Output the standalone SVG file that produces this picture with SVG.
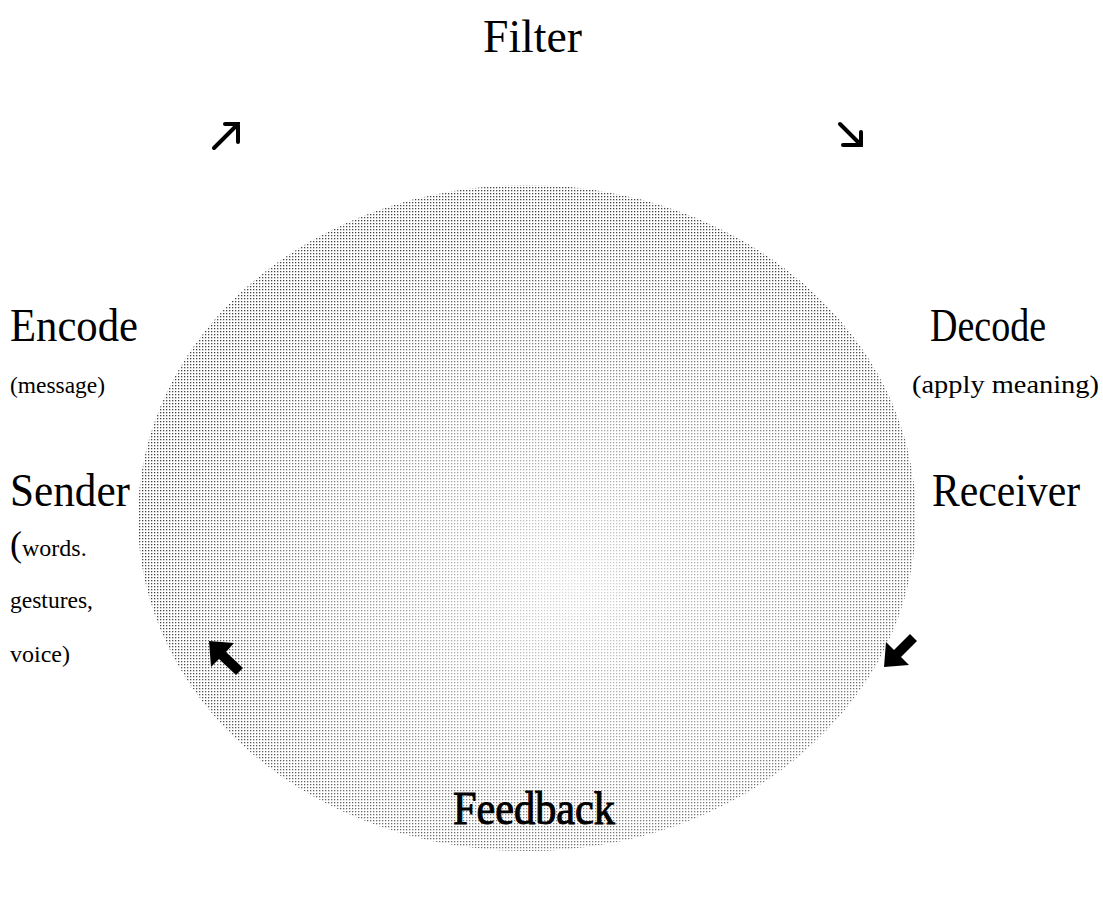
<svg xmlns="http://www.w3.org/2000/svg" width="1103" height="901" viewBox="0 0 1103 901">
  <defs>
    <pattern id="dots" width="3" height="3" patternUnits="userSpaceOnUse">
      <rect x="1" y="1" width="1.3" height="1.3" fill="#444"/>
    </pattern>
    <radialGradient id="fade" cx="0.56" cy="0.6" r="0.55">
      <stop offset="0" stop-color="#fff" stop-opacity="0.8"/>
      <stop offset="0.55" stop-color="#fff" stop-opacity="0.4"/>
      <stop offset="1" stop-color="#fff" stop-opacity="0"/>
    </radialGradient>
  </defs>
  <style>
    text { font-family: "Liberation Serif", "Times New Roman", serif; fill: #000; }
    .big { font-size: 46px; }
    .small { font-size: 24px; }
    .thin { fill: none; stroke: #000; stroke-width: 4; stroke-linecap: round; stroke-linejoin: miter; }
    .bold { fill: #000; stroke: none; }
  </style>
  <rect width="1103" height="901" fill="#fff"/>
  <g id="circle">
    <ellipse cx="527" cy="518" rx="389" ry="333" fill="url(#dots)"/>
    <ellipse cx="527" cy="518" rx="389" ry="333" fill="url(#fade)"/>
  </g>
  <g id="filter"><text class="big" x="483" y="52" textLength="99" lengthAdjust="spacingAndGlyphs">Filter</text></g>
  <g id="encode">
    <text class="big" x="10" y="341" textLength="128" lengthAdjust="spacingAndGlyphs">Encode</text>
    <text class="small" x="10" y="393" textLength="95" lengthAdjust="spacingAndGlyphs">(message)</text>
  </g>
  <g id="decode">
    <text class="big" x="930" y="341" textLength="116" lengthAdjust="spacingAndGlyphs">Decode</text>
    <text x="912" y="393" font-size="26" textLength="187" lengthAdjust="spacingAndGlyphs">(apply meaning)</text>
  </g>
  <g id="sender">
    <text class="big" x="10" y="506" textLength="120" lengthAdjust="spacingAndGlyphs">Sender</text>
    <text x="10" y="556"><tspan font-size="36">(</tspan><tspan font-size="24">words.</tspan></text>
    <text class="small" x="10" y="608" textLength="83" lengthAdjust="spacingAndGlyphs">gestures,</text>
    <text class="small" x="10" y="662">voice)</text>
  </g>
  <g id="receiver"><text class="big" x="932" y="506" textLength="148" lengthAdjust="spacingAndGlyphs">Receiver</text></g>
  <g id="feedback"><text class="big" x="453" y="824" textLength="162" lengthAdjust="spacingAndGlyphs" stroke="#000" stroke-width="1">Feedback</text></g>
  <g id="connectors">
    <path class="thin" d="M214,148 L238,124 M225,124 L238,124 L238,142"/>
    <path class="thin" d="M840,124 L861,145 M843,145 L861,145 L861,132"/>
    <path class="bold" d="M209,641 L234,643 L226,652 L243,668 L236,675 L219,659 L211,667 Z"/>
    <path class="bold" d="M884,667 L886,642 L894,650 L910,634 L917,641 L901,657 L909,665 Z"/>
  </g>
</svg>
